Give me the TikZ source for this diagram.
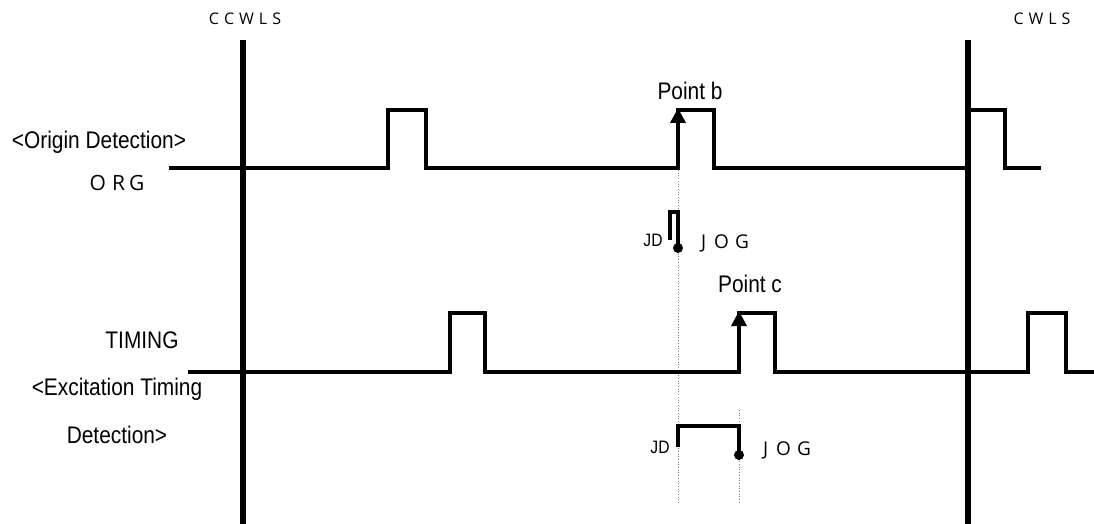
\documentclass[tikz,border=0pt]{standalone}
\usepackage{fontspec}
\setmainfont{Liberation Sans}
\newfontfamily\narrowfont[FakeStretch=0.87]{Liberation Sans}
\newfontfamily\spacedfont{Open Sans}
\usetikzlibrary{arrows.meta}
\begin{document}
\begin{tikzpicture}[x=1pt,y=-1pt,
  sig/.style={line width=3.6pt, line join=miter, line cap=rect},
  limit/.style={line width=6pt},
  guide/.style={gray, line width=0.7pt, dotted},
  rise/.style={line width=3.6pt, -{Triangle[width=15pt,length=15pt]}},
  lbl/.style={font=\narrowfont\fontsize{24}{27}\selectfont, inner sep=0, anchor=base},
  small/.style={font=\narrowfont\fontsize{18}{20}\selectfont, inner sep=0, anchor=base},
  spc/.style={font=\spacedfont\fontsize{16}{18}\selectfont, inner sep=0, anchor=base},
  spcb/.style={font=\spacedfont\fontsize{21}{23}\selectfont, inner sep=0, anchor=base},
  spcj/.style={font=\spacedfont\fontsize{19}{21}\selectfont, inner sep=0, anchor=base},
  dot/.style={circle, fill=black, inner sep=0, minimum size=10pt}]
\useasboundingbox (0,0) rectangle (1094,524);

% limit switches
\draw[limit] (243,40) -- (243,524);
\draw[limit] (968,40) -- (968,524);
\node[spc] (ccwls) at (245,25) {C\hspace{5pt}C\hspace{5pt}W\hspace{5pt}L\hspace{5pt}S};
\node[spc] (cwls) at (1042,25) {C\hspace{5pt}W\hspace{5pt}L\hspace{5pt}S};

% guide lines
\draw[guide] (678,170) -- (678,503);
\draw[guide] (739,410) -- (739,503);

% ORG signal
\draw[sig] (171,168) -- (388,168) -- (388,110) -- (426,110) -- (426,168) -- (678,168);
\draw[rise] (678,168) -- (678,108);
\draw[sig] (678,110) -- (714,110) -- (714,168) -- (968,168) -- (968,110) -- (1005,110) -- (1005,168) -- (1039,168);
\node[lbl] (pb) at (690,100) {Point b};
\node[lbl] (orgdet) at (99,148) {<Origin Detection>};
\node[spcb] (org) at (117,190) {O\hspace{6pt}R\hspace{4pt}G};

% JD pulse (upper)
\draw[sig] (670,238) -- (670,212) -- (678,212) -- (678,248);
\node[dot] (d1) at (678,248) {};
\node[small] (jd1) at (653,246) {JD};
\node[spcj] (jog1) at (725,248) {J\hspace{8pt}O\hspace{6pt}G};

% TIMING signal
\draw[sig] (190,372) -- (450,372) -- (450,313) -- (485,313) -- (485,372) -- (739,372);
\draw[rise] (739,372) -- (739,311);
\draw[sig] (739,313) -- (775,313) -- (775,372) -- (1028,372) -- (1028,313) -- (1066,313) -- (1066,372) -- (1094,372);
\node[lbl] (pc) at (750,292) {Point c};
\node[lbl] (timing) at (142,348) {TIMING};
\node[lbl] (exc1) at (117,395) {<Excitation Timing};
\node[lbl] (exc2) at (117,443) {Detection>};

% JD pulse (lower)
\draw[sig] (678,445) -- (678,426) -- (739,426) -- (739,455);
\node[dot] (d2) at (739,455) {};
\node[small] (jd2) at (660,453) {JD};
\node[spcj] (jog2) at (787,455) {J\hspace{8pt}O\hspace{6pt}G};
\end{tikzpicture}
\end{document}
